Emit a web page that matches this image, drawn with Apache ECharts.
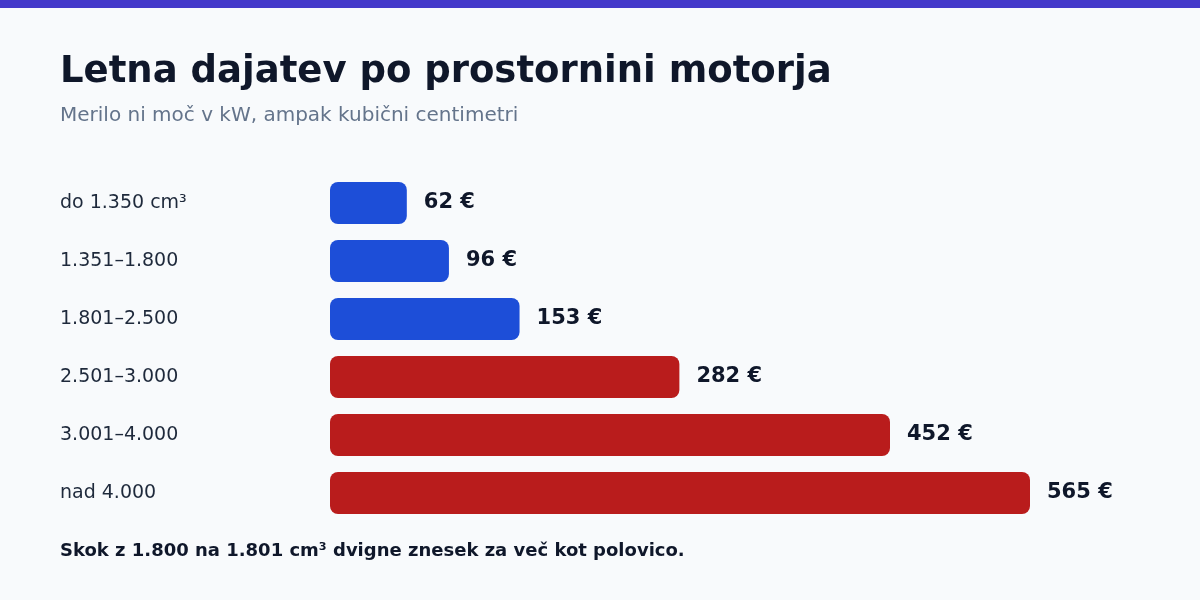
<!DOCTYPE html>
<html>
<head>
<meta charset="utf-8">
<script src="https://cdn.jsdelivr.net/npm/echarts@6/dist/echarts.min.js"></script>
<style>
html,body{margin:0;padding:0;background:#f8fafc;}
#main{width:1200px;height:600px;}
</style>
</head>
<body>
<div id="main"></div>
<script>
var categories = ['do 1.350 cm³', '1.351–1.800', '1.801–2.500', '2.501–3.000', '3.001–4.000', 'nad 4.000'];
var values = [62, 96, 153, 282, 452, 565];
var colors = ['#1d4ed8', '#1d4ed8', '#1d4ed8', '#b91c1c', '#b91c1c', '#b91c1c'];

var myChart = echarts.init(document.getElementById('main'));
var font = 'DejaVu Sans';

var option = {
    backgroundColor: '#f8fafc',
    animation: false,
    textStyle: { fontFamily: font },
    graphic: [
        { type: 'rect', left: 0, top: 0, shape: { width: 1200, height: 8 }, style: { fill: '#4338ca' } },
        { type: 'text', left: 60, top: 54, style: { text: 'Letna dajatev po prostornini motorja', fontFamily: font, fontSize: 37, fontWeight: 'bold', fill: '#0f172a' } },
        { type: 'text', left: 60, top: 106, style: { text: 'Merilo ni moč v kW, ampak kubični centimetri', fontFamily: font, fontSize: 20, fill: '#64748b' } },
        { type: 'text', left: 60, top: 542, style: { text: 'Skok z 1.800 na 1.801 cm³ dvigne znesek za več kot polovico.', fontFamily: font, fontSize: 18, fontWeight: 'bold', fill: '#0f172a' } }
    ],
    grid: { left: 330, right: 170, top: 174, bottom: 78 },
    xAxis: { type: 'value', min: 0, max: 565, show: false },
    yAxis: {
        type: 'category',
        data: categories,
        inverse: true,
        axisLine: { show: false },
        axisTick: { show: false },
        axisLabel: { align: 'left', margin: 270, fontSize: 19, color: '#1e293b', fontFamily: font }
    },
    series: [{
        type: 'bar',
        barWidth: 42,
        data: values.map(function (v, i) {
            return { value: v, itemStyle: { color: colors[i], borderRadius: 8 } };
        }),
        label: {
            show: true,
            position: 'right',
            distance: 17,
            formatter: '{c} €',
            fontSize: 21,
            fontWeight: 'bold',
            color: '#0f172a',
            fontFamily: font
        }
    }]
};

myChart.setOption(option);
</script>
</body>
</html>
